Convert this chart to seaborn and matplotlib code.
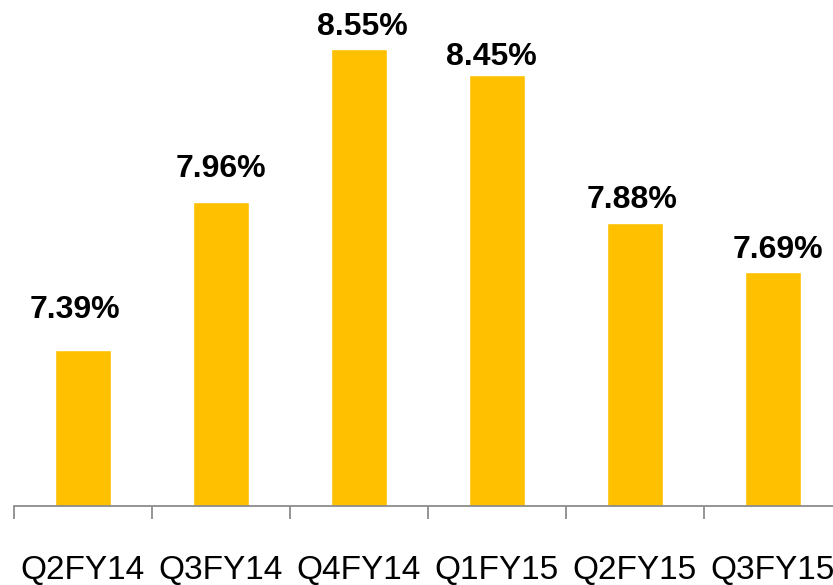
import matplotlib
matplotlib.use("Agg")
import matplotlib.pyplot as plt
import seaborn as sns
import pandas as pd
import numpy as np

quarters = ["Q2FY14", "Q3FY14", "Q4FY14", "Q1FY15", "Q2FY15", "Q3FY15"]
rates = [7.39, 7.96, 8.55, 8.45, 7.88, 7.69]

# Hand-placed label offsets from each bar top (pixels: right, up)
label_dx = [-8, 0, 3, -6, -3, 5]
label_dy = [32, 25, 14, 10, 15, 14]

sns.set_theme(style="white")
plt.rcParams["font.family"] = ["Liberation Sans", "DejaVu Sans"]

df = pd.DataFrame({"quarter": quarters, "rate": rates})

DPI = 100
fig = plt.figure(figsize=(8.33, 5.85), dpi=DPI)
ax = fig.add_axes([14 / 833, 79 / 585, 828 / 833, 506 / 585])

sns.barplot(data=df, x="quarter", y="rate", color="#FFC000", width=0.4,
            saturation=1, ax=ax)

ax.set_ylim(6.79, 6.79 + 506 / 259.5)
ax.set_xlim(-0.5, len(quarters) - 0.5)

px = 72 / DPI
for patch, v, dx, dy in zip(ax.patches, rates, label_dx, label_dy):
    xc = patch.get_x() + patch.get_width() / 2
    ax.annotate(f"{v:.2f}%", xy=(xc, patch.get_height()),
                xytext=(dx * px, dy * px), textcoords="offset points",
                ha="center", va="baseline", fontsize=23, fontweight="bold",
                color="black", annotation_clip=False)

for s in ["top", "left", "right"]:
    ax.spines[s].set_visible(False)
ax.spines["bottom"].set_color("#8c8c8c")
ax.spines["bottom"].set_linewidth(1.3)

ax.set_yticks([])
ax.set_xlabel("")
ax.set_ylabel("")
ax.set_xticks(np.arange(-0.5, len(quarters)), minor=True)
ax.tick_params(axis="x", which="minor", length=9, width=1.3, color="#8c8c8c",
               bottom=True)
ax.tick_params(axis="x", which="major", length=0, pad=35, labelsize=24,
               labelcolor="black")

fig.savefig("out.png", dpi=DPI)
